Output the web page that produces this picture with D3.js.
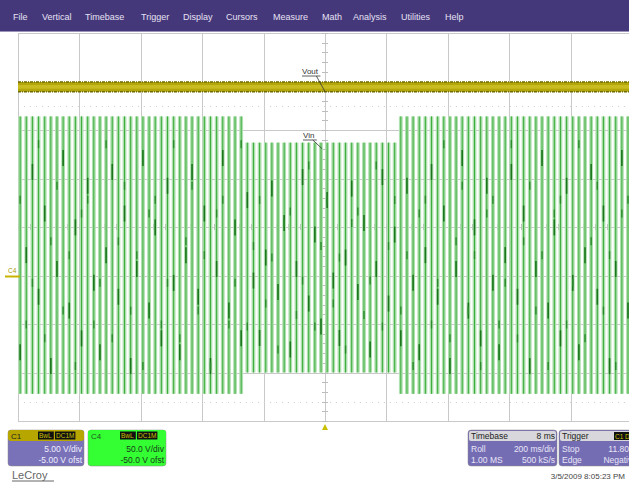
<!DOCTYPE html>
<html>
<head>
<meta charset="utf-8">
<script src="https://cdn.jsdelivr.net/npm/d3@7"></script>
<style>
  body { margin: 0; background: #fff; }
  svg { display: block; font-family: "Liberation Sans", Arial, sans-serif; }
</style>
</head>
<body>
<div id="scope"></div>
<script>
// menu items along the top bar
var menuItems = ["File", "Vertical", "Timebase", "Trigger", "Display", "Cursors",
                 "Measure", "Math", "Analysis", "Utilities", "Help"];
var menuX = [13, 42, 85, 141, 183, 226, 273, 322, 353, 401, 445];

// timebase: 200 ms/div, 10 divisions, roll mode
var timeDivs = [0, 1, 2, 3, 4, 5, 6, 7, 8, 9, 10];
var voltDivs = [-4, -3, -2, -1, 0, 1, 2, 3, 4];

// C4 (Vin) : mains at 50 Hz -> one stroke every 20 ms, amplitude in volts
var vinPeriodMs = 20;
var vinFirstMs = 6;
var vinSegments = [
  {start: 0,    end: 732,  high: 164, low: -122},
  {start: 732,  end: 1236, high: 137, low: -100},
  {start: 1236, end: 2000, high: 164, low: -122}
];
// where the darker trace dots sit inside each stroke (fraction from top), read by eye
var vinDots = [0.85, 0.5, 0.2, 0.65, 0.35, 0.9, 0.55, 0.15, 0.7, 0.4, 0.8, 0.25, 0.6];
var vinDots2 = [0.3, 0.75, 0.6, 0.1, 0.8, 0.45, 0.25, 0.7, 0.5, 0.9, 0.35];

// C1 (Vout): flat DC line with a little noise band, volts
var voutHigh = 19.95;
var voutLow = 18.95;

var W = 629, H = 483;
var svg = d3.select("#scope").append("svg").attr("width", W).attr("height", H);

// menu bar
svg.append("rect").attr("x", 0).attr("y", 0).attr("width", W).attr("height", 31).attr("fill", "#45387a");
svg.append("line").attr("x1", 0).attr("x2", W).attr("y1", 31.5).attr("y2", 31.5).attr("stroke", "#9a94b8");
svg.selectAll(".menu").data(menuItems).enter().append("text")
  .attr("x", function(d, i) { return menuX[i]; })
  .attr("y", 20)
  .attr("font-size", 9)
  .attr("fill", "#e6e2f4")
  .text(function(d) { return d; });

// scales
var x = d3.scaleLinear().domain([0, 2000]).range([18, 632]);
var xDiv = d3.scaleLinear().domain([0, 10]).range([18, 632]);
var yDiv = d3.scaleLinear().domain([-4, 4]).range([421, 33]);
var y1 = d3.scaleLinear().domain([5 - 20, 5 + 20]).range([421, 33]);     // 5 V/div, -5 V ofst
var y4 = d3.scaleLinear().domain([50 - 200, 50 + 200]).range([421, 33]); // 50 V/div, -50 V ofst

// grid
var grid = svg.append("g");
grid.selectAll(".vg").data(timeDivs).enter().append("line")
  .attr("x1", function(d) { return Math.round(xDiv(d)) + 0.5; })
  .attr("x2", function(d) { return Math.round(xDiv(d)) + 0.5; })
  .attr("y1", yDiv(4)).attr("y2", yDiv(-4))
  .attr("stroke", "#c9c9c9");
grid.selectAll(".hg").data(voltDivs).enter().append("line")
  .attr("y1", function(d) { return Math.round(yDiv(d)) + 0.5; })
  .attr("y2", function(d) { return Math.round(yDiv(d)) + 0.5; })
  .attr("x1", xDiv(0)).attr("x2", xDiv(10))
  .attr("stroke", "#c9c9c9");
// faint dotted rows near top and bottom
[2.5, -3.6].forEach(function(v) {
  grid.append("line").attr("x1", xDiv(0)).attr("x2", xDiv(10))
    .attr("y1", Math.round(yDiv(v)) + 0.5).attr("y2", Math.round(yDiv(v)) + 0.5)
    .attr("stroke", "#d2d2d2").attr("stroke-dasharray", "1,5");
});
// minor ticks on the centre cross
var minor = d3.range(-4, 4.01, 0.2);
grid.selectAll(".mt").data(minor).enter().append("line")
  .attr("x1", xDiv(5) - 3).attr("x2", xDiv(5) + 3)
  .attr("y1", function(d) { return Math.round(yDiv(d)) + 0.5; })
  .attr("y2", function(d) { return Math.round(yDiv(d)) + 0.5; })
  .attr("stroke", "#bdbdbd");
grid.selectAll(".mtx").data(d3.range(0, 10.01, 0.2)).enter().append("line")
  .attr("y1", yDiv(0) - 3).attr("y2", yDiv(0) + 3)
  .attr("x1", function(d) { return Math.round(xDiv(d)) + 0.5; })
  .attr("x2", function(d) { return Math.round(xDiv(d)) + 0.5; })
  .attr("stroke", "#bdbdbd");

// Vin strokes
var strokes = [];
vinSegments.forEach(function(s) {
  var t = Math.ceil((s.start - vinFirstMs) / vinPeriodMs) * vinPeriodMs + vinFirstMs;
  for (; t < s.end; t += vinPeriodMs) strokes.push({t: t, high: s.high, low: s.low});
});
var vin = svg.append("g");
var sg = vin.selectAll(".st").data(strokes).enter().append("g");
sg.append("rect")
  .attr("x", function(d) { return x(d.t) - 1.6; })
  .attr("width", 3.8)
  .attr("y", function(d) { return y4(d.high); })
  .attr("height", function(d) { return y4(d.low) - y4(d.high); })
  .attr("fill", "#afe0af");
sg.append("line")
  .attr("x1", function(d) { return x(d.t) + 0.3; })
  .attr("x2", function(d) { return x(d.t) + 0.3; })
  .attr("y1", function(d) { return y4(d.high); })
  .attr("y2", function(d) { return y4(d.low); })
  .attr("stroke", "#3cac3c").attr("stroke-width", 1);
function dots(arr, len, width, col) {
  sg.append("line")
    .attr("x1", function(d) { return x(d.t) + 0.3; })
    .attr("x2", function(d) { return x(d.t) + 0.3; })
    .attr("y1", function(d, i) { var f = arr[i % arr.length]; return y4(d.high) + f * (y4(d.low) - y4(d.high)) - len; })
    .attr("y2", function(d, i) { var f = arr[i % arr.length]; return y4(d.high) + f * (y4(d.low) - y4(d.high)) + len; })
    .attr("stroke", col).attr("stroke-width", width);
}
dots(vinDots, 8, 1.6, "#1b751d");
dots(vinDots2, 4, 1.4, "#2a8a2c");

// Vout band
svg.append("rect")
  .attr("x", x(0)).attr("width", W - x(0))
  .attr("y", y1(voutHigh)).attr("height", y1(voutLow) - y1(voutHigh))
  .attr("fill", "#b2a60a");
svg.append("rect")
  .attr("x", x(0)).attr("width", W - x(0))
  .attr("y", y1(voutHigh) + 3).attr("height", y1(voutLow) - y1(voutHigh) - 6)
  .attr("fill", "#c8bc20");
[voutHigh, voutLow].forEach(function(v) {
  svg.append("line").attr("x1", x(0)).attr("x2", W)
    .attr("y1", y1(v)).attr("y2", y1(v))
    .attr("stroke", "#6f6a00").attr("stroke-width", 1.6).attr("stroke-dasharray", "3,1,1,1");
});

// labels with leaders
function label(txt, lx, ly, tx, ty) {
  svg.append("text").attr("x", lx).attr("y", ly).attr("font-size", 8)
    .attr("fill", "#333").text(txt);
  var w = txt.length * 4.6;
  svg.append("line").attr("x1", lx).attr("x2", lx + w).attr("y1", ly + 2).attr("y2", ly + 2)
    .attr("stroke", "#333").attr("stroke-width", 0.8);
  svg.append("line").attr("x1", lx + w - 4).attr("x2", tx).attr("y1", ly + 2).attr("y2", ty)
    .attr("stroke", "#333").attr("stroke-width", 0.8);
}
label("Vout", 302, 74, x(1000), y1(voutLow));
label("Vin", 303, 138, x(1000) - 3, y4(137) + 6);

// C4 ground marker and trigger marker
svg.append("text").attr("x", 8).attr("y", 273).attr("font-size", 6.5).attr("fill", "#a89a00").text("C4");
svg.append("line").attr("x1", 5).attr("x2", 20).attr("y1", 276.5).attr("y2", 276.5)
  .attr("stroke", "#c8b400").attr("stroke-width", 2);
svg.append("path").attr("d", "M" + (xDiv(5) - 3) + ",430 L" + (xDiv(5) + 3) + ",430 L" + xDiv(5) + ",424 Z")
  .attr("fill", "#c8c000");

// channel boxes
function tag(g, tx, ty, txt) {
  g.append("rect").attr("x", tx).attr("y", ty).attr("width", txt.length * 4.6 + 2).attr("height", 8)
    .attr("fill", "#111");
  g.append("text").attr("x", tx + 1).attr("y", ty + 6.5).attr("font-size", 6.5).attr("fill", "#c8c000").text(txt);
}
function chanBox(bx, w, head, headFill, bodyFill, textFill, name, l1, l2) {
  var g = svg.append("g");
  g.append("rect").attr("x", bx).attr("y", 430).attr("width", w).attr("height", 36).attr("rx", 3)
    .attr("fill", bodyFill).attr("stroke", "#888").attr("stroke-width", 0.5);
  g.append("rect").attr("x", bx).attr("y", 430).attr("width", w).attr("height", 11).attr("rx", 3)
    .attr("fill", headFill);
  g.append("text").attr("x", bx + 3).attr("y", 439).attr("font-size", 8).attr("fill", head).text(name);
  tag(g, bx + w - 46, 431.5, "BwL");
  tag(g, bx + w - 29, 431.5, "DC1M");
  g.append("text").attr("x", bx + w - 2).attr("y", 452).attr("text-anchor", "end").attr("font-size", 8.5)
    .attr("fill", textFill).text(l1);
  g.append("text").attr("x", bx + w - 2).attr("y", 463).attr("text-anchor", "end").attr("font-size", 8.5)
    .attr("fill", textFill).text(l2);
}
chanBox(8, 76, "#222", "#b8a600", "#7a72b8", "#eeeeff", "C1", "5.00 V/div", "-5.00 V ofst");
chanBox(88, 78, "#225522", "#33ff33", "#33ff33", "#1a3a1a", "C4", "50.0 V/div", "-50.0 V ofst");

svg.append("text").attr("x", 12).attr("y", 479).attr("font-size", 11).attr("fill", "#666").text("LeCroy");
svg.append("line").attr("x1", 12).attr("x2", 54).attr("y1", 481).attr("y2", 481).attr("stroke", "#666");

// timebase / trigger boxes (the trigger box runs off the right edge, as on screen)
function infoBox(bx, w, title, headRight, rows) {
  var g = svg.append("g");
  g.append("rect").attr("x", bx).attr("y", 430).attr("width", w).attr("height", 36).attr("rx", 3)
    .attr("fill", "#756db4").attr("stroke", "#888").attr("stroke-width", 0.5);
  g.append("rect").attr("x", bx + 1).attr("y", 431).attr("width", w - 2).attr("height", 10).attr("rx", 2)
    .attr("fill", "#d8d8dc");
  g.append("text").attr("x", bx + 3).attr("y", 439).attr("font-size", 8.5).attr("fill", "#222").text(title);
  if (headRight) g.append("text").attr("x", bx + w - 2).attr("y", 439).attr("text-anchor", "end")
    .attr("font-size", 8.5).attr("fill", "#222").text(headRight);
  rows.forEach(function(r, i) {
    g.append("text").attr("x", bx + 3).attr("y", 452 + i * 11).attr("font-size", 8.5).attr("fill", "#e8e6f6").text(r[0]);
    g.append("text").attr("x", bx + w - 2).attr("y", 452 + i * 11).attr("text-anchor", "end")
      .attr("font-size", 8.5).attr("fill", "#e8e6f6").text(r[1]);
  });
  return g;
}
infoBox(468, 89, "Timebase", "8 ms", [["Roll", "200 ms/div"], ["1.00 MS", "500 kS/s"]]);
var trig = infoBox(559, 80, "Trigger", null, [["Stop", "11.80 V"], ["Edge", "Negative"]]);
tag(trig, 614, 432, "C1 DC");

svg.append("text").attr("x", 625).attr("y", 479).attr("text-anchor", "end").attr("font-size", 8)
  .attr("fill", "#444").text("3/5/2009 8:05:23 PM");
</script>
</body>
</html>
